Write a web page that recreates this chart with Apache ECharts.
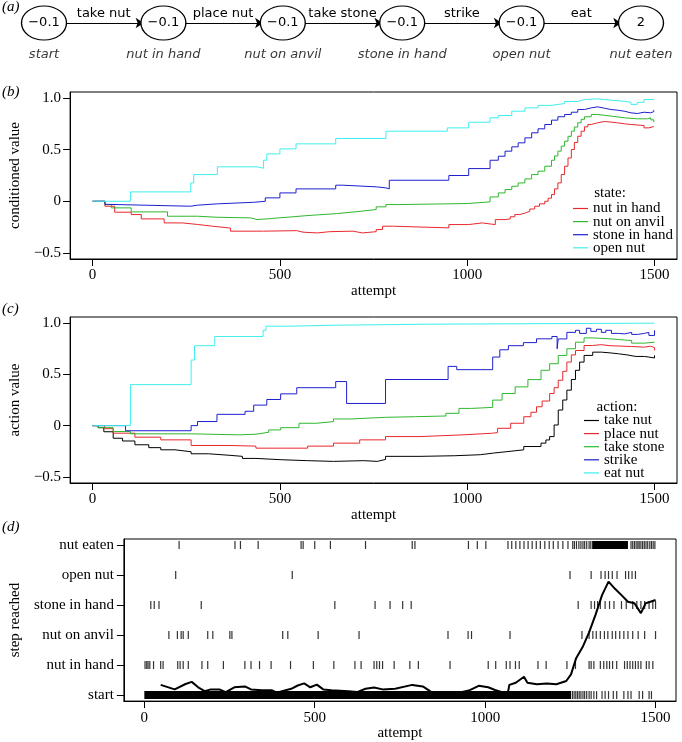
<!DOCTYPE html>
<html>
<head>
<meta charset="utf-8">
<script src="https://cdn.jsdelivr.net/npm/echarts@6.0.0/dist/echarts.min.js"></script>
<style>
html, body { margin: 0; padding: 0; background: #fff; }
#main { width: 682px; height: 742px; }
</style>
</head>
<body>
<div id="main"></div>
<script>
// (a) state chain
var states = ['start', 'nut in hand', 'nut on anvil', 'stone in hand', 'open nut', 'nut eaten'];
var stateRewards = [-0.1, -0.1, -0.1, -0.1, -0.1, 2];
var chainActions = ['take nut', 'place nut', 'take stone', 'strike', 'eat'];

// (b) conditioned value of each state, [attempt, value]
var bNames = ['nut in hand', 'nut on anvil', 'stone in hand', 'open nut'];
var bNutInHand = [[0,0],[15,0],[33,-0.048],[59,-0.106],[103,-0.129],[130,-0.171],[191,-0.21],[240,-0.225],[280,-0.242],[320,-0.26],[368,-0.29],[456,-0.285],[545,-0.3],[562,-0.307],[600,-0.295],[633,-0.29],[695,-0.307],[720,-0.295],[757,-0.274],[774,-0.242],[801,-0.258],[951,-0.226],[1004,-0.21],[1040,-0.22],[1061,-0.226],[1075,-0.178],[1101,-0.171],[1115,-0.15],[1127,-0.129],[1140,-0.115],[1154,-0.097],[1167,-0.075],[1180,-0.048],[1193,-0.025],[1207,0],[1216,0.03],[1225,0.065],[1233,0.12],[1242,0.178],[1251,0.26],[1260,0.34],[1269,0.42],[1278,0.502],[1286,0.57],[1295,0.631],[1304,0.68],[1313,0.722],[1322,0.745],[1331,0.761],[1348,0.774],[1366,0.768],[1384,0.761],[1401,0.752],[1419,0.745],[1437,0.74],[1454,0.735],[1472,0.712],[1485,0.725],[1498,0.729]];
var bNutOnAnvil = [[0,0],[15,0],[33,-0.032],[50,-0.064],[103,-0.103],[200,-0.145],[280,-0.155],[333,-0.161],[421,-0.177],[439,-0.17],[470,-0.16],[500,-0.152],[530,-0.142],[562,-0.132],[600,-0.12],[651,-0.106],[690,-0.095],[721,-0.08],[757,-0.054],[783,-0.032],[818,-0.022],[1000,-0.006],[1061,0.042],[1083,0.081],[1101,0.114],[1119,0.146],[1136,0.178],[1154,0.217],[1172,0.259],[1189,0.292],[1207,0.34],[1225,0.398],[1233,0.44],[1242,0.486],[1251,0.535],[1260,0.583],[1269,0.63],[1278,0.68],[1286,0.72],[1295,0.761],[1304,0.795],[1313,0.82],[1331,0.842],[1348,0.826],[1384,0.81],[1419,0.8],[1454,0.8],[1481,0.81],[1490,0.79],[1498,0.767]];
var bStoneInHand = [[0,0],[15,0],[33,-0.03],[41,-0.048],[262,-0.038],[280,-0.025],[333,-0.01],[430,0],[461,0.033],[500,0.081],[543,0.12],[649,0.156],[668,0.14],[757,0.13],[783,0.12],[792,0.204],[951,0.25],[1004,0.317],[1061,0.398],[1083,0.437],[1101,0.486],[1119,0.528],[1136,0.567],[1154,0.615],[1172,0.664],[1189,0.703],[1207,0.745],[1225,0.787],[1242,0.82],[1260,0.842],[1278,0.864],[1295,0.89],[1313,0.906],[1331,0.916],[1348,0.903],[1366,0.89],[1384,0.884],[1401,0.874],[1419,0.858],[1437,0.851],[1454,0.864],[1472,0.858],[1490,0.87],[1498,0.884]];
var bOpenNut = [[0,0],[101,0.091],[262,0.178],[270,0.259],[333,0.334],[440,0.32],[456,0.398],[465,0.46],[500,0.508],[543,0.557],[649,0.609],[783,0.68],[947,0.712],[1004,0.767],[1061,0.81],[1083,0.832],[1119,0.874],[1154,0.906],[1189,0.93],[1225,0.948],[1260,0.968],[1295,0.987],[1313,0.994],[1348,0.98],[1384,0.97],[1419,0.96],[1437,0.94],[1454,0.96],[1472,0.987],[1498,0.994]];

// (c) action values, [attempt, value]
var cNames = ['take nut', 'place nut', 'take stone', 'strike', 'eat nut'];
var cTakeNut = [[0,0],[15,-0.02],[30,-0.06],[55,-0.123],[80,-0.15],[113,-0.187],[150,-0.215],[182,-0.236],[220,-0.255],[263,-0.275],[310,-0.29],[367,-0.3],[400,-0.32],[436,-0.333],[505,-0.342],[574,-0.349],[643,-0.342],[724,-0.349],[760,-0.33],[782,-0.3],[874,-0.294],[966,-0.284],[1035,-0.268],[1070,-0.255],[1104,-0.236],[1151,-0.204],[1197,-0.171],[1210,-0.14],[1220,-0.107],[1232,0.006],[1243,0.152],[1255,0.25],[1266,0.346],[1278,0.45],[1289,0.54],[1300,0.62],[1312,0.685],[1335,0.717],[1358,0.71],[1381,0.701],[1404,0.69],[1427,0.675],[1450,0.675],[1473,0.669],[1485,0.66],[1500,0.685]];
var cPlaceNut = [[0,0],[32,-0.03],[55,-0.074],[113,-0.113],[182,-0.139],[263,-0.194],[367,-0.2],[436,-0.22],[505,-0.22],[574,-0.2],[643,-0.171],[713,-0.139],[782,-0.107],[874,-0.09],[989,-0.074],[1068,-0.068],[1081,-0.026],[1116,0.023],[1151,0.087],[1170,0.13],[1185,0.184],[1200,0.24],[1220,0.313],[1232,0.37],[1243,0.443],[1255,0.53],[1266,0.62],[1278,0.69],[1289,0.733],[1312,0.782],[1335,0.79],[1358,0.78],[1381,0.772],[1439,0.766],[1473,0.775],[1490,0.76],[1500,0.733]];
var cTakeStone = [[0,0],[15,-0.02],[55,-0.058],[101,-0.08],[263,-0.09],[390,-0.084],[436,-0.065],[470,-0.042],[502,-0.02],[551,0.023],[597,0.039],[643,0.065],[689,0.081],[782,0.087],[862,0.094],[943,0.12],[978,0.168],[1012,0.178],[1068,0.249],[1093,0.313],[1128,0.378],[1162,0.449],[1197,0.54],[1220,0.604],[1243,0.685],[1266,0.75],[1289,0.814],[1312,0.856],[1335,0.847],[1381,0.83],[1439,0.805],[1473,0.814],[1500,0.814]];
var cStrike = [[0,0],[88,-0.05],[263,0],[280,0.04],[332,0.11],[407,0.14],[430,0.2],[465,0.255],[502,0.31],[545,0.37],[649,0.43],[678,0.216],[782,0.45],[949,0.578],[972,0.546],[1068,0.669],[1087,0.74],[1110,0.78],[1150,0.81],[1185,0.847],[1226,0.87],[1240,0.75],[1243,0.846],[1266,0.91],[1289,0.93],[1300,0.9],[1318,0.95],[1330,0.92],[1345,0.94],[1358,0.91],[1370,0.93],[1385,0.9],[1404,0.895],[1420,0.91],[1439,0.89],[1455,0.9],[1473,0.91],[1485,0.88],[1500,0.93]];
var cEatNut = [[0,0],[101,0.4],[263,0.64],[272,0.78],[326,0.87],[455,0.93],[463,0.97],[520,0.98],[650,0.99],[900,1.0],[1500,1.0]];

// (d) attempts at which each step was the last one reached
var startBlock = [0, 1252];
var startTicks = [1256,1261,1266,1271,1276,1281,1287,1292,1298,1305,1311,1319,1327,1343,1352,1362,1376,1386,1407,1419,1428,1452,1462,1481,1488];
var nutInHandTicks = [2,7,11,16,27,48,55,98,105,114,129,169,186,232,295,313,338,372,429,496,556,618,636,674,682,690,699,733,779,804,897,1009,1031,1062,1073,1089,1100,1155,1179,1240,1265,1305,1311,1319,1338,1348,1357,1365,1374,1386,1409,1417,1425,1433,1441,1449,1457,1473,1481,1492];
var nutOnAnvilTicks = [72,97,108,114,129,186,201,251,257,406,421,510,630,891,950,960,1073,1284,1305,1316,1326,1338,1350,1360,1373,1383,1395,1407,1419,1433,1449,1468,1500];
var stoneInHandTicks = [19,29,43,167,559,677,721,758,783,1273,1311,1321,1330,1338,1352,1365,1378,1400,1414,1433,1445,1457,1468,1481,1492,1500];
var openNutTicks = [92,434,1249,1311,1340,1352,1362,1373,1387,1412,1421,1431,1441];
var nutEatenBlock = [1314, 1419];
var nutEatenTicks = [102,266,282,334,460,466,500,546,649,786,794,951,977,1002,1067,1078,1090,1102,1114,1126,1138,1150,1162,1175,1188,1200,1214,1228,1243,1257,1262,1268,1275,1281,1287,1292,1298,1305,1310,1428,1433,1438,1443,1448,1452,1457,1462,1467,1472,1477,1483,1488,1493,1498];
// running mean of step reached
var stepMean = [[48,0.34],[52,0.32],[89,0.19],[121,0.37],[139,0.44],[158,0.26],[177,0.13],[195,0.19],[220,0.19],[239,0.1],[264,0.26],[295,0.29],[313,0.19],[344,0.16],[375,0.16],[388,0.08],[431,0.21],[450,0.32],[469,0.39],[487,0.26],[506,0.35],[525,0.19],[549,0.16],[599,0.13],[624,0.1],[649,0.21],[674,0.25],[699,0.19],[736,0.21],[786,0.34],[817,0.29],[835,0.16],[848,0.05],[900,0.02],[952,0.15],[981,0.31],[1009,0.26],[1029,0.17],[1052,0.09],[1067,0.09],[1071,0.34],[1090,0.41],[1114,0.61],[1124,0.41],[1152,0.36],[1181,0.39],[1209,0.36],[1238,0.47],[1252,0.69],[1267,1.23],[1286,1.6],[1305,2.09],[1324,2.68],[1343,3.33],[1362,3.78],[1381,3.54],[1400,3.33],[1419,3.11],[1438,3.06],[1457,2.73],[1471,3.06],[1485,3.11],[1500,3.17]];

var xTicks = [0, 500, 1000, 1500];
var valueTicks = [-0.5, 0, 0.5, 1.0];
var stepTicks = [0, 1, 2, 3, 4, 5];

var serif = 'Liberation Serif';
var sans = 'DejaVu Sans';
var RED = '#e8282c', GREEN = '#2eb82e', BLUE = '#1f1fcf', CYAN = '#40eeee';

function minus(v) {
    return String(v).replace('-', '\u2212');
}

function valueLabel(v) {
    if (v === 0) return '0';
    return minus(v.toFixed(1));
}

var axisFont = { fontFamily: serif, fontSize: 15, color: '#000' };
var blackLine = { show: true, onZero: false, lineStyle: { color: '#000', width: 1 } };

function xAxisFor(grid, gap) {
    return {
        type: 'value', gridIndex: grid, min: -60, max: 1560,
        name: 'attempt', nameLocation: 'middle', nameGap: gap, nameTextStyle: axisFont,
        axisLine: blackLine,
        axisTick: { show: true, inside: false, length: 7, customValues: xTicks, lineStyle: { color: '#000' } },
        axisLabel: Object.assign({ customValues: xTicks, margin: 9, formatter: function (v) { return String(v); } }, axisFont),
        splitLine: { show: false }
    };
}

function valueAxisFor(grid, title) {
    return {
        type: 'value', gridIndex: grid, min: -0.56, max: 1.06,
        name: title, nameLocation: 'middle', nameGap: 40, nameTextStyle: axisFont,
        axisLine: blackLine,
        axisTick: { show: true, inside: false, length: 7, customValues: valueTicks, lineStyle: { color: '#000' } },
        axisLabel: Object.assign({ customValues: valueTicks, margin: 9, formatter: valueLabel }, axisFont),
        splitLine: { show: false }
    };
}

function stepLine(name, data, color, grid) {
    return {
        name: name, type: 'line', xAxisIndex: grid, yAxisIndex: grid,
        data: data, step: 'end', symbol: 'none',
        lineStyle: { color: color, width: 1 }, itemStyle: { color: color },
        silent: true
    };
}

function tickRow(ticks, row) {
    return ticks.map(function (t) { return [t, row]; });
}

function legendFor(names, left, top) {
    return {
        data: names, orient: 'vertical', left: left, top: top,
        icon: 'rect', itemWidth: 15, itemHeight: 1.2, itemGap: -1.9, padding: 0,
        selectedMode: false,
        textStyle: { fontFamily: serif, fontSize: 15, color: '#000' }
    };
}

function panelLetter(txt, y) {
    return {
        type: 'text', left: 2, top: y,
        style: { text: txt, font: 'italic 15px "Liberation Serif"', fill: '#000' }
    };
}

function legendTitle(txt, x, y) {
    return {
        type: 'text', x: x, y: y,
        style: { text: txt, font: '15px "Liberation Serif"', fill: '#000', textAlign: 'center', textVerticalAlign: 'middle' }
    };
}

var chart = echarts.init(document.getElementById('main'));

var dTicks = [startTicks, nutInHandTicks, nutOnAnvilTicks, stoneInHandTicks, openNutTicks, nutEatenTicks];
var dPoints = [];
dTicks.forEach(function (list, row) { dPoints = dPoints.concat(tickRow(list, row)); });

var option = {
    animation: false,
    backgroundColor: '#fff',
    grid: [
        { left: 44, top: 0, width: 597, height: 46 },
        { left: 65, top: 92, width: 612, height: 167, show: true, borderColor: '#000', borderWidth: 1 },
        { left: 65, top: 317, width: 612, height: 166, show: true, borderColor: '#000', borderWidth: 1 },
        { left: 109, top: 539, width: 567, height: 167, show: true, borderColor: '#000', borderWidth: 1 }
    ],
    xAxis: [
        { type: 'value', gridIndex: 0, min: 0, max: 5, show: false },
        xAxisFor(1, 25),
        xAxisFor(2, 25),
        xAxisFor(3, 22)
    ],
    yAxis: [
        { type: 'value', gridIndex: 0, min: -1, max: 1, show: false },
        valueAxisFor(1, 'conditioned value'),
        valueAxisFor(2, 'action value'),
        {
            type: 'value', gridIndex: 3, min: -0.2, max: 5.2,
            name: 'step reached', nameLocation: 'middle', nameGap: 91, nameTextStyle: axisFont,
            axisLine: blackLine,
            axisTick: { show: true, length: 7, customValues: stepTicks, lineStyle: { color: '#000' } },
            axisLabel: Object.assign({
                customValues: stepTicks, margin: 10,
                formatter: function (v) { return states[Math.round(v)]; }
            }, axisFont),
            splitLine: { show: false }
        }
    ],
    legend: [
        legendFor(bNames, 573, 201),
        legendFor(cNames, 584, 413)
    ],
    graphic: [
        panelLetter('(a)', 0),
        panelLetter('(b)', 85),
        panelLetter('(c)', 302),
        panelLetter('(d)', 520),
        legendTitle('state:', 610, 193),
        legendTitle('action:', 617, 407)
    ],
    series: [
        {
            type: 'graph', coordinateSystem: 'cartesian2d', xAxisIndex: 0, yAxisIndex: 0,
            silent: true, z: 3,
            symbol: 'path://M0,50 A50,50 0 1 1 100,50 A50,50 0 1 1 0,50 Z',
            symbolSize: [45, 34],
            itemStyle: { color: '#fff', borderColor: '#000', borderWidth: 1.2 },
            label: {
                show: true, position: 'inside', color: '#000', fontFamily: sans, fontSize: 13,
                formatter: function (p) { return minus(stateRewards[p.dataIndex]); }
            },
            edgeSymbol: ['circle', 'arrow'], edgeSymbolSize: [0, 8],
            lineStyle: { color: '#000', width: 1, opacity: 1, curveness: 0 },
            edgeLabel: {
                show: true, position: 'middle', distance: 3, color: '#000', fontFamily: sans, fontSize: 13,
                formatter: function (p) { return chainActions[p.dataIndex]; }
            },
            data: states.map(function (s, i) { return { name: s, value: [i, 0] }; }),
            links: chainActions.map(function (a, i) { return { source: i, target: i + 1 }; })
        },
        {
            type: 'scatter', xAxisIndex: 0, yAxisIndex: 0, silent: true, z: 2,
            symbolSize: [45, 34], itemStyle: { color: 'rgba(0,0,0,0)' },
            label: {
                show: true, position: 'bottom', distance: 8, color: '#000',
                fontFamily: sans, fontSize: 13, fontStyle: 'italic',
                formatter: function (p) { return states[p.dataIndex]; }
            },
            data: states.map(function (s, i) { return [i, 0]; })
        },
        stepLine('nut in hand', bNutInHand, RED, 1),
        stepLine('nut on anvil', bNutOnAnvil, GREEN, 1),
        stepLine('stone in hand', bStoneInHand, BLUE, 1),
        stepLine('open nut', bOpenNut, CYAN, 1),
        stepLine('take nut', cTakeNut, '#000', 2),
        stepLine('place nut', cPlaceNut, RED, 2),
        stepLine('take stone', cTakeStone, GREEN, 2),
        stepLine('strike', cStrike, BLUE, 2),
        stepLine('eat nut', cEatNut, CYAN, 2),
        {
            type: 'scatter', xAxisIndex: 3, yAxisIndex: 3, silent: true,
            symbol: 'rect', symbolSize: [1.2, 8], itemStyle: { color: '#000' },
            data: dPoints
        },
        {
            type: 'line', xAxisIndex: 3, yAxisIndex: 3, silent: true, symbol: 'none',
            lineStyle: { color: '#000', width: 8, cap: 'butt' },
            data: [[startBlock[0], 0], [startBlock[1], 0]]
        },
        {
            type: 'line', xAxisIndex: 3, yAxisIndex: 3, silent: true, symbol: 'none',
            lineStyle: { color: '#000', width: 8, cap: 'butt' },
            data: [[nutEatenBlock[0], 5], [nutEatenBlock[1], 5]]
        },
        {
            type: 'line', xAxisIndex: 3, yAxisIndex: 3, silent: true, symbol: 'none',
            lineStyle: { color: '#000', width: 2 },
            data: stepMean
        }
    ]
};

chart.setOption(option);
</script>
</body>
</html>
